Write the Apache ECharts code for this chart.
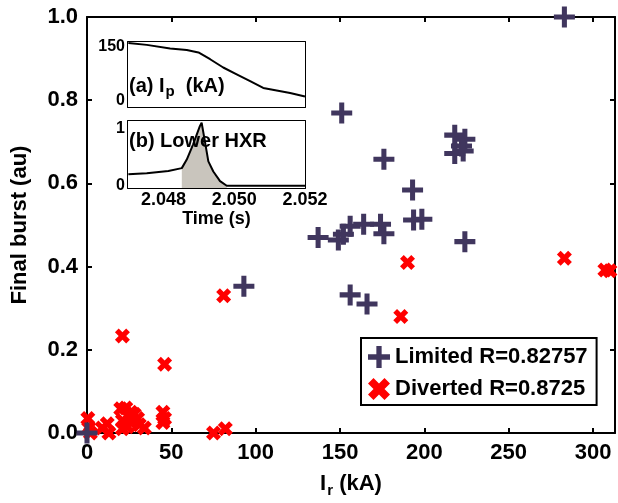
<!DOCTYPE html>
<html><head><meta charset="utf-8">
<script src="https://cdn.jsdelivr.net/npm/echarts@6/dist/echarts.min.js"></script>
<style>html,body{margin:0;padding:0;background:#fff}#c{width:618px;height:503px}</style>
</head><body><div id="c"></div>
<script>
// ---- data ----
const limitedName = 'Limited R=0.82757';
const divertedName = 'Diverted R=0.8725';
const limitedX = [0, 93, 137, 149, 152, 156, 164, 174, 176, 151, 176, 156, 166, 193, 193.6, 198.5, 224, 218, 224, 222, 218, 223, 283];
const limitedY = [0, 0.353, 0.470, 0.464, 0.478, 0.497, 0.502, 0.502, 0.479, 0.769, 0.658, 0.332, 0.310, 0.584, 0.512, 0.514, 0.460, 0.716, 0.706, 0.690, 0.672, 0.678, 1.0];
const divertedX = [0.5, 1, 2, 9, 12, 13, 20, 23, 26, 28, 21, 24, 26, 30, 31, 34, 21, 45, 46, 45, 46, 21, 75, 82, 81, 186, 190, 283, 307, 310];
const divertedY = [0.035, 0.012, 0, 0.012, 0.022, 0, 0.058, 0.060, 0.050, 0.045, 0.030, 0.015, 0.025, 0.035, 0.020, 0.012, 0.010, 0.050, 0.035, 0.025, 0.165, 0.233, 0, 0.010, 0.330, 0.280, 0.410, 0.420, 0.392, 0.390];
const xTicks = [0, 50, 100, 150, 200, 250, 300];
const yTicks = [0, 0.2, 0.4, 0.6, 0.8, 1.0];
// inset (a): plasma current
const ipTime = [2.04701, 2.04753, 2.04819, 2.04866, 2.04899, 2.04932, 2.04969, 2.05007, 2.05045, 2.05082, 2.0512, 2.05158, 2.052];
const ipValue = [161, 156, 146, 142, 135, 116, 93, 74, 55, 36, 29, 22, 12];
// inset (b): lower HXR
const hxrTime = [2.04701, 2.04753, 2.04814, 2.04852, 2.04866, 2.04884, 2.04903, 2.04908, 2.04917, 2.04927, 2.04941, 2.0496, 2.04979, 2.05026, 2.052];
const hxrValue = [0.2, 0.22, 0.26, 0.31, 0.46, 0.73, 1.05, 1.11, 0.79, 0.43, 0.25, 0.08, 0, 0, 0];
const shadeFrom = 3, shadeTo = 12; // indices of shaded burst window in hxr arrays
const timeTicks = [2.048, 2.049, 2.050, 2.051];
const timeLabels = [2.048, 2.050, 2.052];
const ipTicks = [0, 50, 100, 150];
const ipLabels = [0, 150];
const hxrTicks = [0, 0.5, 1];
const hxrLabels = [0, 1];

// ---- styling ----
const F = 'Liberation Sans';
const BLACK = '#000';
const PURPLE = '#40365e';
const RED = '#ff0000';
const PLUS = 'path://M3.8,0h2.4v3.8h3.8v2.4h-3.8v3.8h-2.4v-3.8h-3.8v-2.4h3.8z';
const CROSS = 'path://M0,2.5L2.5,0L5,2.5L7.5,0L10,2.5L7.5,5L10,7.5L7.5,10L5,7.5L2.5,10L0,7.5L2.5,5Z';

function axis(o) {
  const a = {
    type: 'value', gridIndex: o.grid, min: o.min, max: o.max, position: o.pos,
    splitLine: { show: false },
    axisLine: { show: true, onZero: false, lineStyle: { color: BLACK, width: 2 } },
    axisTick: { show: true, inside: true, length: o.tl || 5, lineStyle: { color: BLACK, width: 2 }, customValues: o.ticks },
    axisLabel: { show: false }
  };
  if (o.labels) {
    a.axisLabel = { show: true, customValues: o.labels, color: BLACK, fontFamily: F, fontWeight: 'bold', fontSize: o.fs, margin: o.margin };
    if (o.fmt) a.axisLabel.formatter = o.fmt;
  }
  if (o.extra) Object.assign(a, o.extra);
  return a;
}
const pair = (xs, ys) => xs.map((x, i) => [x, ys[i]]);

const option = {
  animation: false,
  backgroundColor: '#fff',
  grid: [
    { left: 87, top: 17, width: 528, height: 416 },
    { left: 128, top: 42, width: 177, height: 65, show: true, backgroundColor: '#fff', borderWidth: 0, z: 5 },
    { left: 128, top: 121, width: 177, height: 67, show: true, backgroundColor: '#fff', borderWidth: 0, z: 5 }
  ],
  xAxis: [
    axis({ grid: 0, min: 0, max: 313, pos: 'bottom', ticks: xTicks, labels: xTicks, fs: 22, margin: 9,
      extra: { name: '{i|I}{s|r}{i| (kA)}', nameLocation: 'middle', nameGap: 36,
        nameTextStyle: { rich: {
          i: { fontFamily: F, fontWeight: 'bold', fontSize: 22, color: BLACK },
          s: { fontFamily: F, fontWeight: 'bold', fontSize: 15, color: BLACK, verticalAlign: 'top', padding: [14, 0, 0, 1] } } } } }),
    axis({ grid: 0, min: 0, max: 313, pos: 'top', ticks: xTicks.slice(1) }),
    axis({ grid: 1, min: 2.047, max: 2.052, pos: 'bottom', ticks: timeTicks, tl: 4 }),
    axis({ grid: 1, min: 2.047, max: 2.052, pos: 'top', ticks: timeTicks, tl: 4 }),
    axis({ grid: 2, min: 2.047, max: 2.052, pos: 'bottom', ticks: timeTicks, tl: 4, labels: timeLabels, fs: 18, margin: 3,
      fmt: v => (+v).toFixed(3),
      extra: { name: 'Time (s)', nameLocation: 'middle', nameGap: 21,
        nameTextStyle: { fontFamily: F, fontWeight: 'bold', fontSize: 18, color: BLACK } } }),
    axis({ grid: 2, min: 2.047, max: 2.052, pos: 'top', ticks: timeTicks, tl: 4 })
  ],
  yAxis: [
    axis({ grid: 0, min: 0, max: 1, pos: 'left', ticks: yTicks, labels: yTicks, fs: 22, margin: 9,
      fmt: v => (+v).toFixed(1),
      extra: { name: 'Final burst (au)', nameLocation: 'middle', nameGap: 56,
        nameTextStyle: { fontFamily: F, fontWeight: 'bold', fontSize: 22, color: BLACK } } }),
    axis({ grid: 0, min: 0, max: 1, pos: 'right', ticks: yTicks.slice(1, 5) }),
    axis({ grid: 1, min: -17, max: 164, pos: 'left', ticks: ipTicks, tl: 4, labels: ipLabels, fs: 16, margin: 3 }),
    axis({ grid: 1, min: -17, max: 164, pos: 'right', ticks: ipTicks, tl: 4 }),
    axis({ grid: 2, min: -0.04, max: 1.14, pos: 'left', ticks: hxrTicks, tl: 4, labels: hxrLabels, fs: 16, margin: 3 }),
    axis({ grid: 2, min: -0.04, max: 1.14, pos: 'right', ticks: hxrTicks, tl: 4 })
  ],
  legend: {
    data: [limitedName, divertedName], orient: 'vertical', left: 361, top: 338,
    padding: [8, 9, 5, 7], itemGap: 10, itemWidth: 22, itemHeight: 22,
    borderColor: BLACK, borderWidth: 2, backgroundColor: '#fff', selectedMode: false,
    textStyle: { fontFamily: F, fontWeight: 'bold', fontSize: 22, color: BLACK }
  },
  graphic: [
    { type: 'text', left: 129, top: 76, z: 100, style: { text: '{t|(a) I}{s|p}{t|  (kA)}', rich: {
      t: { fontFamily: F, fontWeight: 'bold', fontSize: 20, fill: BLACK },
      s: { fontFamily: F, fontWeight: 'bold', fontSize: 15, fill: BLACK, verticalAlign: 'top', padding: [11, 0, 0, 1] } } } },
    { type: 'text', left: 129, top: 131, z: 100, style: { text: '(b) Lower HXR', font: 'bold 20px "Liberation Sans"', fill: BLACK } }
  ],
  series: [
    { name: divertedName, type: 'scatter', xAxisIndex: 0, yAxisIndex: 0, data: pair(divertedX, divertedY),
      symbol: CROSS, symbolSize: 15, itemStyle: { color: RED, opacity: 1 }, clip: false, z: 3 },
    { name: limitedName, type: 'scatter', xAxisIndex: 0, yAxisIndex: 0, data: pair(limitedX, limitedY),
      symbol: PLUS, symbolSize: 21, itemStyle: { color: PURPLE, opacity: 1 }, clip: false, z: 4 },
    { type: 'line', xAxisIndex: 2, yAxisIndex: 2, data: pair(ipTime, ipValue), showSymbol: false, symbol: 'none',
      lineStyle: { color: BLACK, width: 2 }, z: 10 },
    { type: 'line', xAxisIndex: 4, yAxisIndex: 4, data: pair(hxrTime.slice(shadeFrom, shadeTo + 1), hxrValue.slice(shadeFrom, shadeTo + 1)),
      showSymbol: false, symbol: 'none', lineStyle: { width: 0 }, areaStyle: { color: '#c9c5bd', opacity: 1, origin: 'start' }, z: 9 },
    { type: 'line', xAxisIndex: 4, yAxisIndex: 4, data: pair(hxrTime, hxrValue), showSymbol: false, symbol: 'none',
      lineStyle: { color: BLACK, width: 2 }, z: 10 }
  ]
};
const chart = echarts.init(document.getElementById('c'), null, { renderer: 'canvas' });
chart.setOption(option);
</script></body></html>
